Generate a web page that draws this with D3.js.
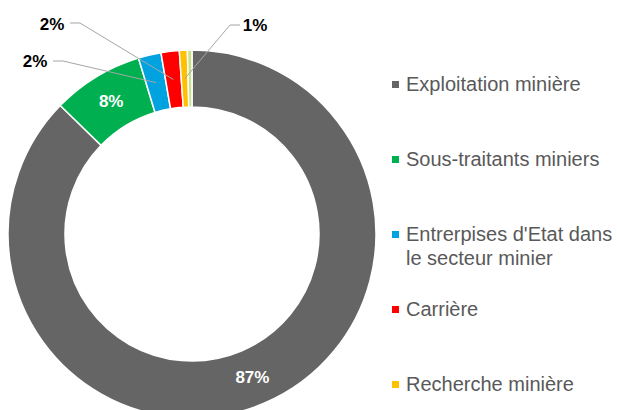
<!DOCTYPE html>
<html>
<head>
<meta charset="utf-8">
<script src="https://cdn.jsdelivr.net/npm/d3@7"></script>
<style>
  html, body { margin: 0; padding: 0; background: #fff; }
  svg { display: block; font-family: "Liberation Sans", Arial, sans-serif; }
</style>
</head>
<body>
<div id="chart"></div>
<script>
// ------- Data -------
const categories = [
  "Exploitation minière",
  "Sous-traitants miniers",
  "Entrerpises d'Etat dans le secteur minier",
  "Carrière",
  "Recherche minière",
  "Autres"
];
const values = [87.3, 8.0, 2.0, 1.6, 0.7, 0.4];
const valueLabels = ["87%", "8%", "2%", "2%", "1%", ""];
const colors = ["#656565", "#00b050", "#00a2e0", "#ff0000", "#ffc000", "#c9e08a"];
// legend text, wrapped as in the original (6th entry falls below the frame)
const legendLines = [
  ["Exploitation minière"],
  ["Sous-traitants miniers"],
  ["Entrerpises d'Etat dans", "le secteur minier"],
  ["Carrière"],
  ["Recherche minière"]
];

// ------- Setup -------
const width = 617;
const height = 410;
const cx = 192, cy = 234;
const outerR = 184, innerR = 127;

const svg = d3.select("#chart")
  .append("svg")
  .attr("width", width)
  .attr("height", height);

const rows = categories.map((c, i) => ({
  name: c, value: values[i], label: valueLabels[i], color: colors[i], i
}));

const pie = d3.pie().sort(null).value((d) => d.value);
const arc = d3.arc().innerRadius(innerR).outerRadius(outerR);
const arcs = pie(rows);

const g = svg.append("g").attr("transform", `translate(${cx},${cy})`);

g.selectAll("path.slice")
  .data(arcs)
  .join("path")
  .attr("class", "slice")
  .attr("d", arc)
  .attr("fill", (d) => d.data.color)
  .attr("stroke", "#fff")
  .attr("stroke-width", 1.5);

// ------- Inside labels (big slices) -------
const inside = arcs.filter((d) => d.data.i < 2);
g.selectAll("text.inside")
  .data(inside)
  .join("text")
  .attr("class", "inside")
  .attr("x", (d) => arc.centroid(d)[0])
  .attr("y", (d) => arc.centroid(d)[1] + 6)
  .attr("text-anchor", "middle")
  .attr("fill", "#fff")
  .attr("font-weight", "bold")
  .attr("font-size", 17)
  .text((d) => d.data.label);

// ------- Outside labels with leader lines -------
// label placement: text x, baseline, line start, elbow
const outsidePos = {
  2: { tx: 35, ty: 67, x0: 53, y0: 61, x1: 63 },
  3: { tx: 52, ty: 30, x0: 70, y0: 23, x1: 80 },
  4: { tx: 255, ty: 31, x0: 240, y0: 25, x1: 230 }
};
const outside = arcs.filter((d) => outsidePos[d.data.i]);

svg.selectAll("polyline.leader")
  .data(outside)
  .join("polyline")
  .attr("class", "leader")
  .attr("fill", "none")
  .attr("stroke", "#a6a6a6")
  .attr("stroke-width", 1)
  .attr("points", (d) => {
    const p = outsidePos[d.data.i];
    const c = arc.centroid(d);
    return [[p.x0, p.y0], [p.x1, p.y0], [cx + c[0], cy + c[1]]].join(" ");
  });

svg.selectAll("text.outside")
  .data(outside)
  .join("text")
  .attr("class", "outside")
  .attr("x", (d) => outsidePos[d.data.i].tx)
  .attr("y", (d) => outsidePos[d.data.i].ty)
  .attr("text-anchor", "middle")
  .attr("fill", "#000")
  .attr("font-weight", "bold")
  .attr("font-size", 17)
  .text((d) => d.data.label);

// ------- Legend -------
const legend = svg.append("g").attr("transform", "translate(392,0)");
const legendY = d3.scalePoint()
  .domain(d3.range(legendLines.length))
  .range([91, 391]);

const item = legend.selectAll("g.item")
  .data(legendLines)
  .join("g")
  .attr("class", "item")
  .attr("transform", (d, i) => `translate(0,${legendY(i)})`);

item.append("rect")
  .attr("x", 0)
  .attr("y", -10)
  .attr("width", 7)
  .attr("height", 7)
  .attr("fill", (d, i) => colors[i]);

item.append("text")
  .attr("fill", "#595959")
  .attr("font-size", 20)
  .selectAll("tspan")
  .data((d) => d)
  .join("tspan")
  .attr("x", 14)
  .attr("y", (d, j) => j * 24)
  .text((d) => d);
</script>
</body>
</html>
